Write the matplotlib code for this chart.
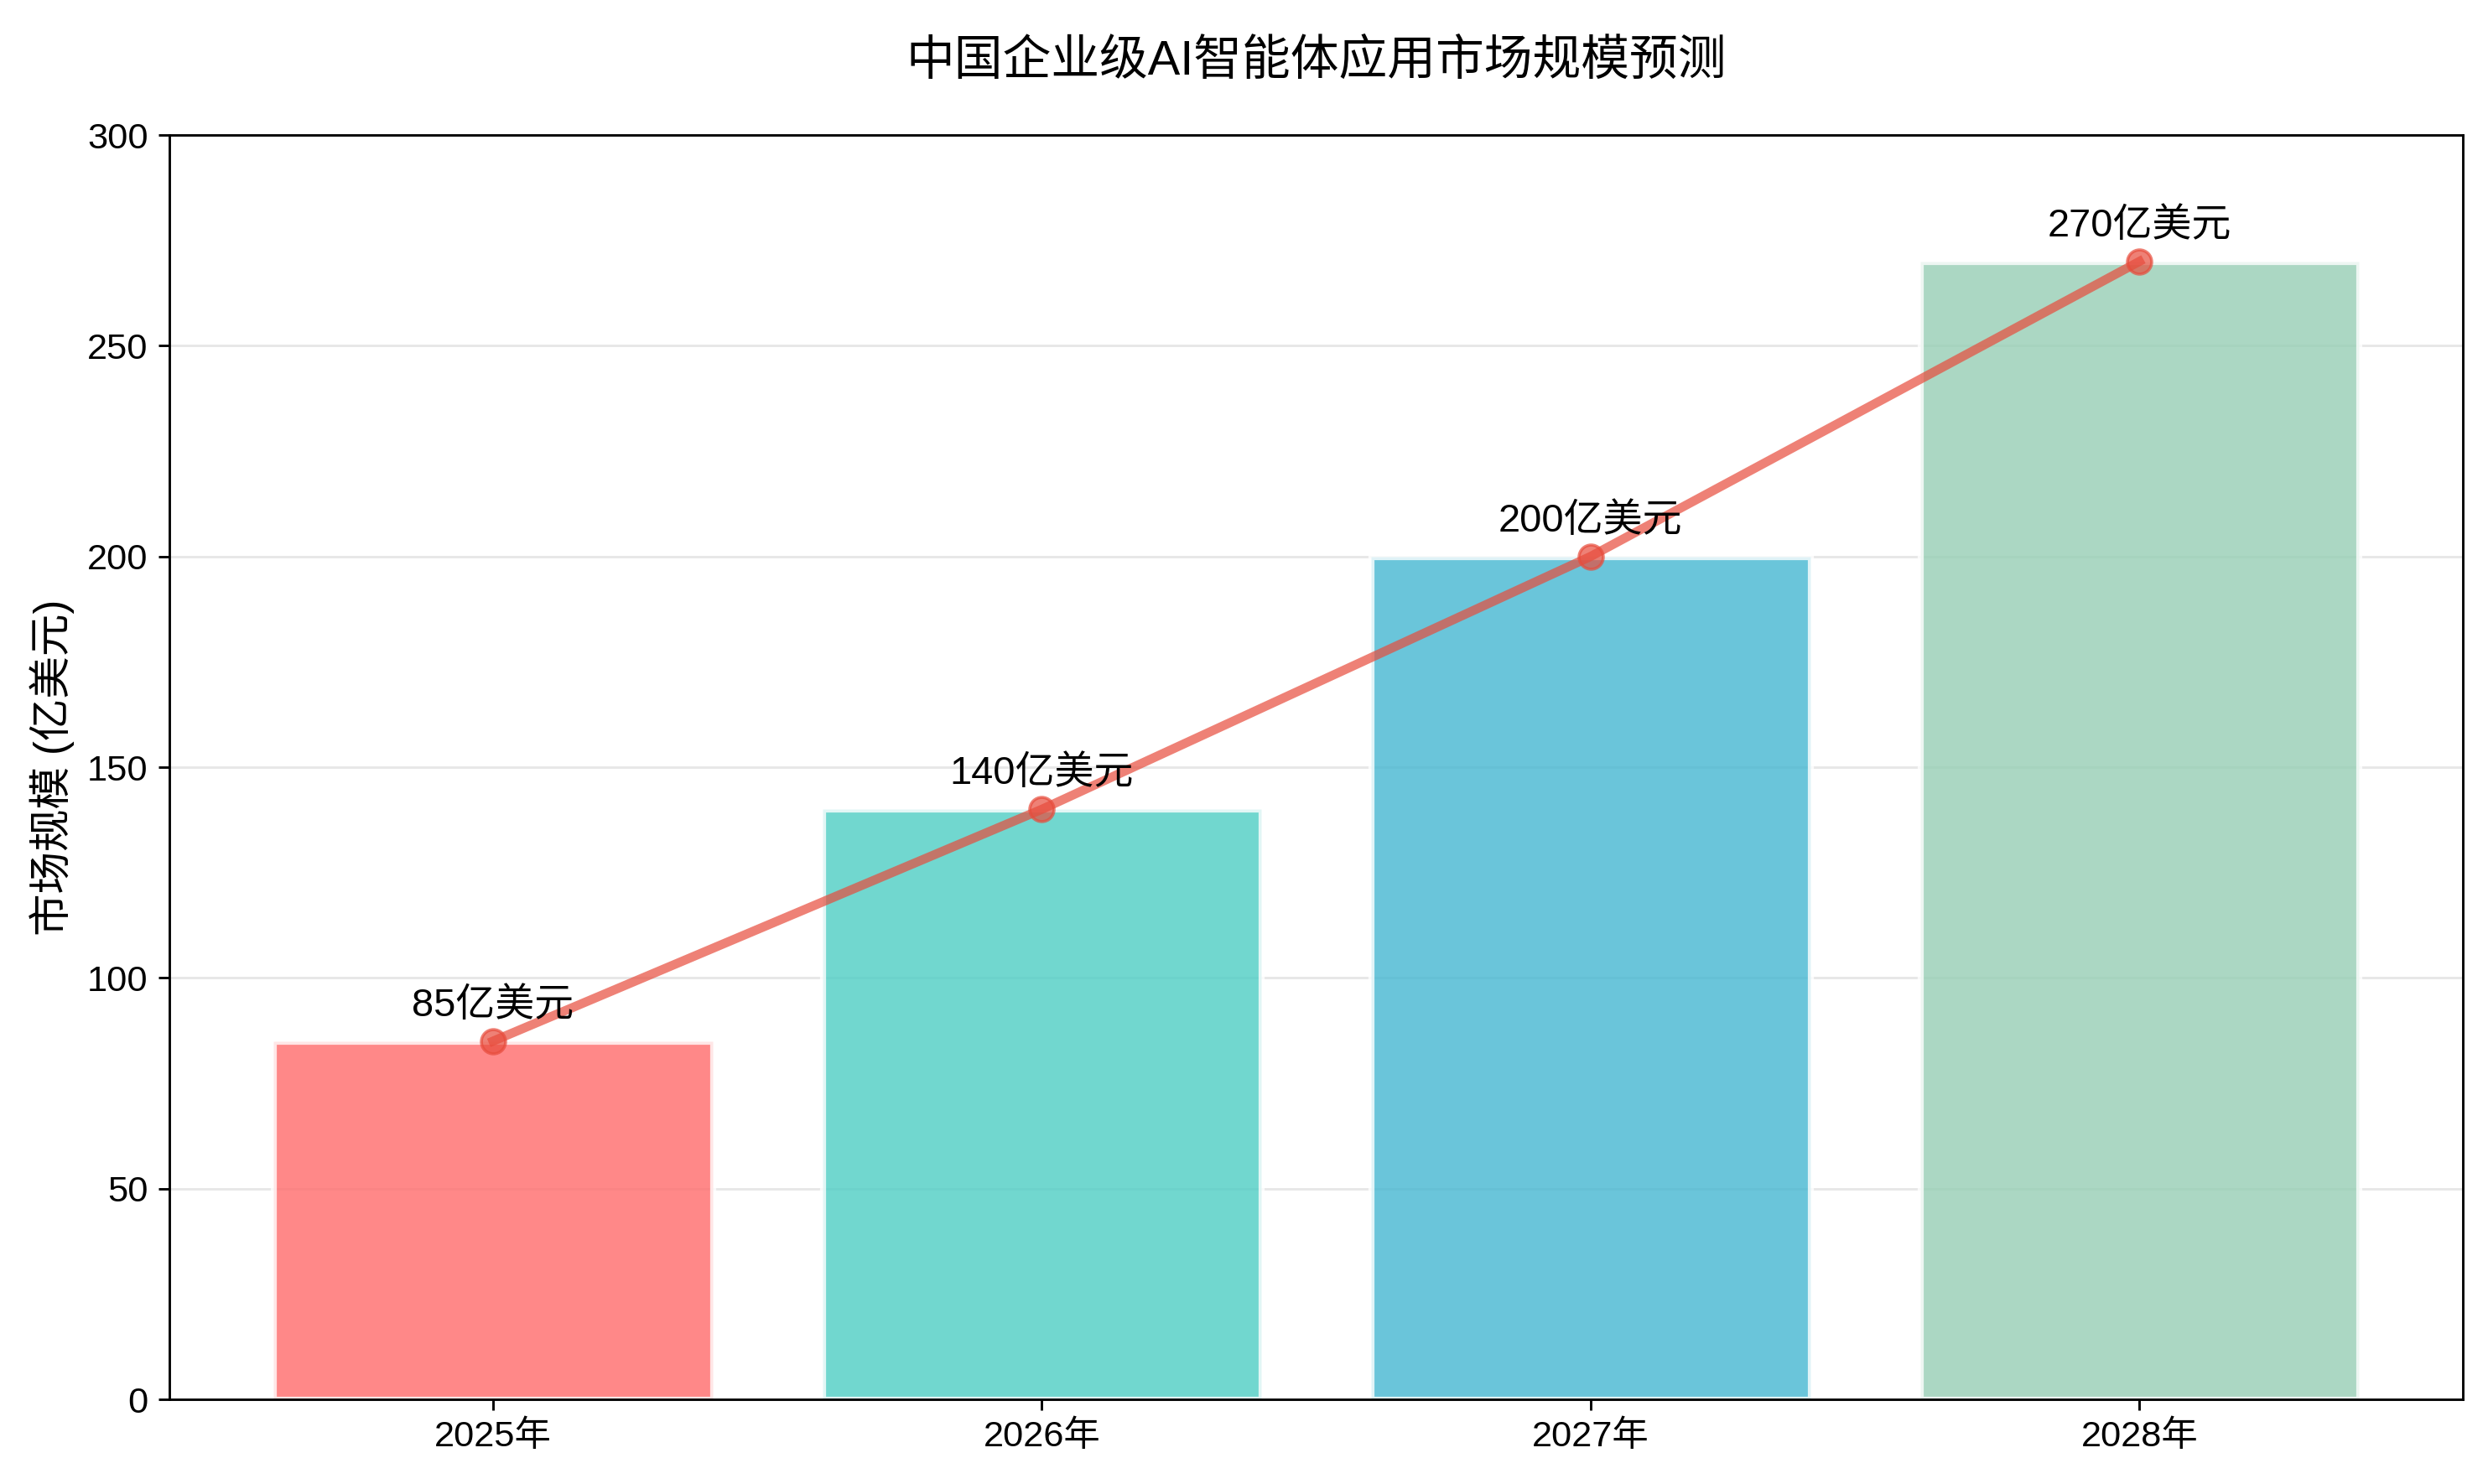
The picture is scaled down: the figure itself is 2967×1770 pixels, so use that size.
import matplotlib
matplotlib.use('Agg')
import matplotlib.pyplot as plt

plt.rcParams['font.family'] = ['Liberation Sans', 'Noto Sans CJK SC', 'DejaVu Sans']
plt.rcParams['axes.unicode_minus'] = False

anni = ['2025年', '2026年', '2027年', '2028年']
valori = [85, 140, 200, 270]
colori = ['#FF6B6B', '#4ECDC4', '#45B7D1', '#96CEB4']

fig, ax = plt.subplots(figsize=(11.412, 6.808), dpi=260)
fig.subplots_adjust(left=0.068, right=0.99, top=0.909, bottom=0.057)

x = range(len(anni))
ax.bar(x, valori, color=colori, alpha=0.8, edgecolor='white', linewidth=2)
ax.plot(x, valori, 'o-', color='#E74C3C', linewidth=3, markersize=8, alpha=0.7)

for i, v in enumerate(valori):
    ax.text(i, v + 4, f'{v}亿美元', ha='center', va='bottom', fontsize=13)

ax.set_xticks(list(x))
ax.set_xticklabels(anni, fontsize=12)
ax.tick_params(axis='y', labelsize=12)
ax.set_ylim(0, 300)
ax.set_ylabel('市场规模 (亿美元)', fontsize=14)
ax.set_title('中国企业级AI智能体应用市场规模预测', fontsize=16, pad=20)
ax.grid(axis='y', alpha=0.3)
ax.set_axisbelow(True)

plt.savefig('out.png', dpi=260)
